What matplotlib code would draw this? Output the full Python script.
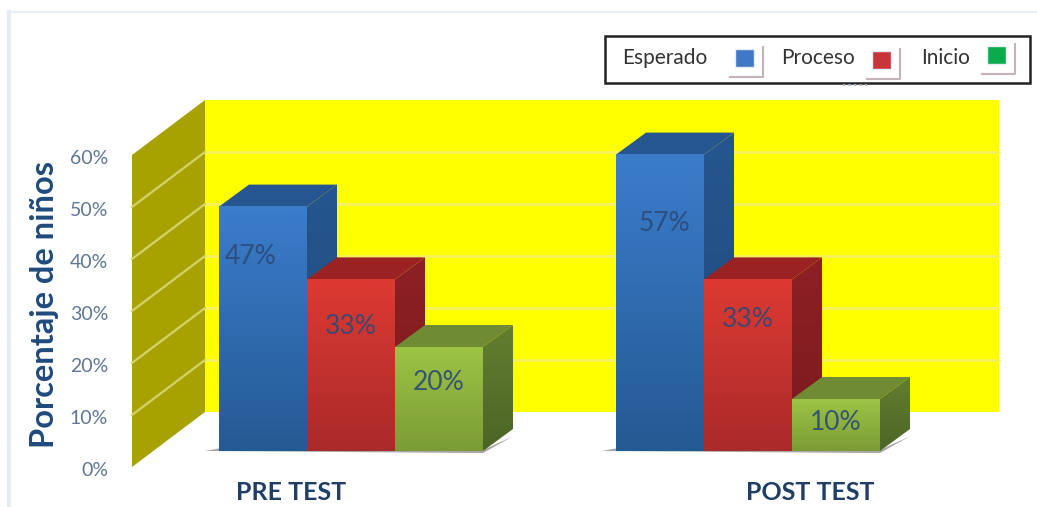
import numpy as np
import matplotlib
matplotlib.use('Agg')
import matplotlib.pyplot as plt
from matplotlib.colors import to_rgb
from matplotlib.patches import Polygon, Rectangle

plt.rcParams['font.family'] = ['Lato', 'DejaVu Sans']

#data
groups = ['PRE TEST', 'POST TEST']
series = ['Esperado', 'Proceso', 'Inicio']
esperado = [47, 57]
proceso = [33, 33]
inicio = [20, 10]
y_ticks = [0, 10, 20, 30, 40, 50, 60]
y_title = 'Porcentaje de niños'

#colours: front top, front bottom, top face, side top, side bottom
styles = [
    ('#3b7ccb', '#245a93', '#25568f', '#26568f', '#1f4a7c'),
    ('#dd3a32', '#aa2a2a', '#9a2222', '#8e2024', '#7a1a1e'),
    ('#9dc345', '#7b9c35', '#6f8c35', '#627f2f', '#4c6526'),
]
legend_cols = ['#3f78c4', '#c9343a', '#0bab4c']
text_blue = '#1f4a7c'

#1 x unit = one bar wide (88px), 1 y unit = one percent (5.2px)
PX_X = 88.0
PX_Y = 5.2
X0 = 219
Y0 = 451
depth_x = 30 / PX_X
depth_y = 22 / PX_Y
group_gap = 397 / PX_X

fig = plt.figure(figsize=(10.37, 5.07), dpi=100)
ax = fig.add_axes([0, 0, 1, 1])
ax.set_xlim(-X0 / PX_X, (1037 - X0) / PX_X)
ax.set_ylim((Y0 - 507) / PX_Y, Y0 / PX_Y)
ax.axis('off')

#walls
wall_front_x = (132 - X0) / PX_X
wall_back_x = (205 - X0) / PX_X
wall_right_x = (999 - X0) / PX_X
wall_front_y = (Y0 - 467) / PX_Y
wall_back_y = (Y0 - 412) / PX_Y
top = max(y_ticks)

ax.add_patch(Rectangle((wall_back_x, wall_back_y), wall_right_x - wall_back_x, top,
                       fc='#ffff00', ec='none', zorder=1))
ax.add_patch(Polygon([(wall_front_x, wall_front_y), (wall_back_x, wall_back_y),
                      (wall_back_x, wall_back_y + top), (wall_front_x, wall_front_y + top)],
                     fc='#a8a200', ec='none', zorder=1))
for t in y_ticks[1:-1]:
    ax.plot([wall_back_x, wall_right_x], [wall_back_y + t, wall_back_y + t],
            color='#f5f060', lw=2, zorder=2)
    ax.plot([wall_front_x, wall_back_x], [wall_front_y + t, wall_back_y + t],
            color='#d6d26a', lw=1.6, zorder=2)
for t in y_ticks:
    ax.text(wall_front_x - 24 / PX_X, wall_front_y + t - 0.6, '%d%%' % t, ha='right', va='center',
            fontsize=14, color='#5f7797', zorder=9)


def draw_bar(x, value, style, z):
    front_top, front_bot, top_col, side_top, side_bot = style
    #top and side faces
    ax.add_patch(Polygon([(x, value), (x + 1, value), (x + 1 + depth_x, value + depth_y),
                          (x + depth_x, value + depth_y)], fc=top_col, ec='none', zorder=z))
    side = Polygon([(x + 1, 0), (x + 1 + depth_x, depth_y), (x + 1 + depth_x, value + depth_y),
                    (x + 1, value)], fc='none', ec='none', zorder=z)
    ax.add_patch(side)
    grad = np.linspace(to_rgb(side_top), to_rgb(side_bot), 64)[:, None, :]
    im = ax.imshow(grad, extent=(x + 1, x + 1 + depth_x, 0, value + depth_y), aspect='auto', zorder=z)
    im.set_clip_path(side)
    #front face
    grad = np.linspace(to_rgb(front_top), to_rgb(front_bot), 64)[:, None, :]
    ax.imshow(grad, extent=(x, x + 1, 0, value), aspect='auto', zorder=z + 0.5)


z = 3
for g, vals in enumerate(zip(esperado, proceso, inicio)):
    start = g * group_gap
    #floor shadow
    ax.add_patch(Polygon([(start - 0.16, 0), (start + 3, -0.4), (start + 3 + depth_x + 0.18, depth_y + 0.3),
                          (start + 3 + depth_x, depth_y - 1.4), (start + 3, 0.2), (start, 0.5)],
                         fc='#8a8a8a', ec='none', alpha=0.75, zorder=2.5))
    for i, v in enumerate(vals):
        draw_bar(start + i, v, styles[i], z)
        z += 1

#value labels, placed by hand like the original
label_x = [[-0.14, 0.0, 0.0], [0.05, 0.0, 0.0]]
label_drop = [9.5, 9.0, 6.9, 13.2, 7.8, 4.6]
k = 0
for g, vals in enumerate(zip(esperado, proceso, inicio)):
    for i, v in enumerate(vals):
        ax.text(g * group_gap + i + 0.5 + label_x[g][i], v - label_drop[k], '%d%%' % v,
                ha='center', va='center', fontsize=19, color='#2c4a78', alpha=0.9, zorder=30)
        k += 1

#category labels
ax.text(0.82, -8.0, groups[0], ha='center', va='center', fontsize=18, fontweight='bold',
        color='#1f3f66', zorder=30)
ax.text(6.72, -8.0, groups[1], ha='center', va='center', fontsize=18, fontweight='bold',
        color='#1f3f66', zorder=30)

#pixel overlay for the frame and legend
ov = fig.add_axes([0, 0, 1, 1])
ov.set_xlim(0, 1037)
ov.set_ylim(507, 0)
ov.axis('off')
ov.patch.set_alpha(0)

ov.text(45, 304, y_title, rotation=90, ha='center', va='center', fontsize=23.5, fontweight='bold',
        color=text_blue)
ov.plot([9, 9], [507, 12], color='#e6ebf3', lw=3)
ov.plot([9, 1037], [12, 12], color='#e9eef5', lw=1.5)

ov.add_patch(Rectangle((605, 36), 425, 47, fc='white', ec='#222222', lw=1.8))
ov.plot([843, 868], [85, 85], color='#aab2bd', lw=1.5, ls=':')
text_x = [622, 781, 921]
swatch_x = [735, 872, 987]
swatch_y = [49, 51, 46]
for name, tx, sx, sy, col in zip(series, text_x, swatch_x, swatch_y, legend_cols):
    #thin shadow round the swatch
    ov.plot([sx - 5, sx + 28, sx + 28], [sy + 28, sy + 28, sy - 2], color='#c4b4ba', lw=1.5)
    ov.add_patch(Rectangle((sx, sy), 19, 18, fc=col, ec='#e8eef6', lw=1))
    ov.text(tx, 58, name, ha='left', va='center', fontsize=15, color='#333333')

fig.savefig('out.png', dpi=100)
